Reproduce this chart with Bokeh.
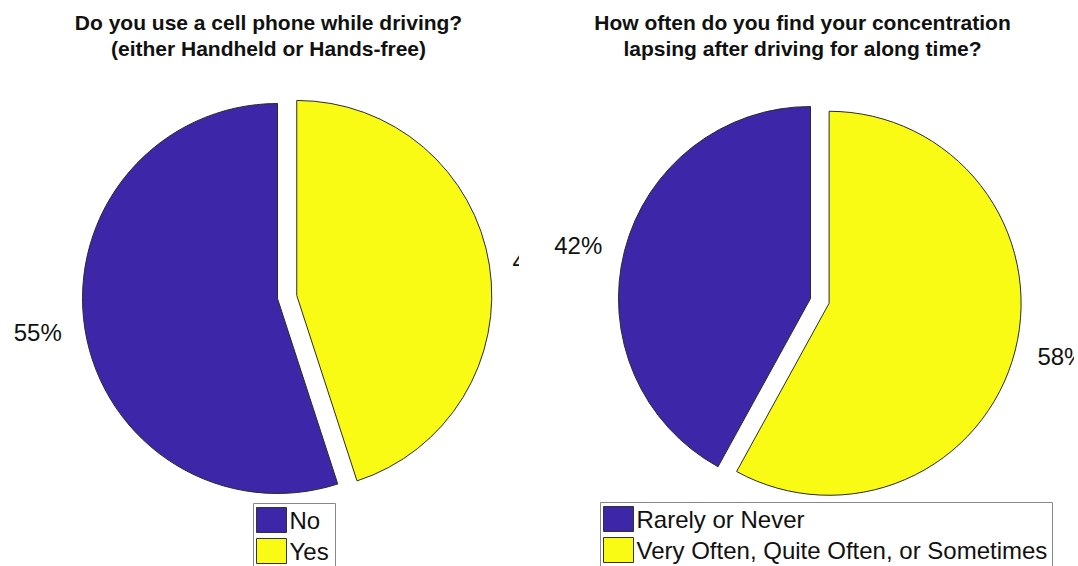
import math
from bokeh.plotting import figure
from bokeh.layouts import row
from bokeh.models import Range1d, ColumnDataSource
from bokeh.core.properties import value
from bokeh.embed import file_html
from bokeh.resources import INLINE

# ---- data ----
left_title = ["Do you use a cell phone while driving?", "(either Handheld or Hands-free)"]
left_labels = ["No", "Yes"]
left_values = [55, 45]
left_explode = [0, 1]

right_title = ["How often do you find your concentration", "lapsing after driving for along time?"]
right_labels = ["Rarely or Never", "Very Often, Quite Often, or Sometimes"]
right_values = [42, 58]
right_explode = [0, 1]

colors = ["#3E26A8", "#F9FB15"]
H = 566
FONT = "Liberation Sans"


def make_panel(width, titles, title_cx, labels, vals, explode, cx, cy, r, leg_x, leg_w, leg_top):
    p = figure(width=width, height=H, output_backend="svg", toolbar_location=None,
               x_range=Range1d(0, width), y_range=Range1d(0, H), min_border=0)
    p.axis.visible = False
    p.grid.visible = False
    p.outline_line_color = None
    p.background_fill_color = "white"

    total = float(sum(vals))
    start = math.pi / 2
    xs, ys, sa, ea, lx, ly, lt, la = [], [], [], [], [], [], [], []
    for v, e in zip(vals, explode):
        span = 2 * math.pi * v / total
        mid = start + span / 2
        ox = cx + (0.1 * r * math.cos(mid) if e else 0)
        oy = cy + (0.1 * r * math.sin(mid) if e else 0)
        xs.append(ox); ys.append(oy); sa.append(start); ea.append(start + span)
        lx.append(ox + 1.12 * r * math.cos(mid))
        ly.append(oy + 1.12 * r * math.sin(mid))
        lt.append(f"{v}%")
        la.append("right" if math.cos(mid) < 0 else "left")
        start += span

    src = ColumnDataSource(dict(x=xs, y=ys, sa=sa, ea=ea, c=colors[:len(vals)]))
    p.wedge(x="x", y="y", radius=r, start_angle="sa", end_angle="ea", direction="anticlock",
            fill_color="c", line_color="#2b2b2b", line_width=1, source=src)

    p.text(x=lx, y=ly, text=lt, text_align=la, text_baseline="middle",
           text_font=value(FONT), text_font_size="24px", text_color="#111111")

    # title
    p.text(x=[title_cx] * len(titles), y=[H - 22 - 26 * i for i in range(len(titles))], text=titles,
           text_align="center", text_baseline="middle", text_font=value(FONT),
           text_font_size="21px", text_font_style="bold", text_color="#111111")

    # legend box
    p.quad(left=[leg_x], right=[leg_x + leg_w], top=[H - leg_top], bottom=[-20],
           fill_color="white", line_color="#888888", line_width=1)
    for i, lab in enumerate(labels):
        top = H - (leg_top + 4 + 31 * i)
        p.quad(left=[leg_x + 3], right=[leg_x + 33], top=[top], bottom=[top - 25],
               fill_color=colors[i], line_color="#333333", line_width=1)
        p.text(x=[leg_x + 36], y=[top - 13], text=[lab], text_align="left", text_baseline="middle",
               text_font=value(FONT), text_font_size="24px", text_color="#111111")
    return p


left = make_panel(519, left_title, 268, left_labels, left_values, left_explode,
                  277, H - 298, 195, 253, 82, 503)
right = make_panel(555, right_title, 802 - 519, right_labels, right_values, right_explode,
                   810 - 519, H - 298, 192, 600 - 519, 452, 502)

layout = row(left, right, spacing=0)
open("out.html", "w").write(file_html(layout, INLINE))
